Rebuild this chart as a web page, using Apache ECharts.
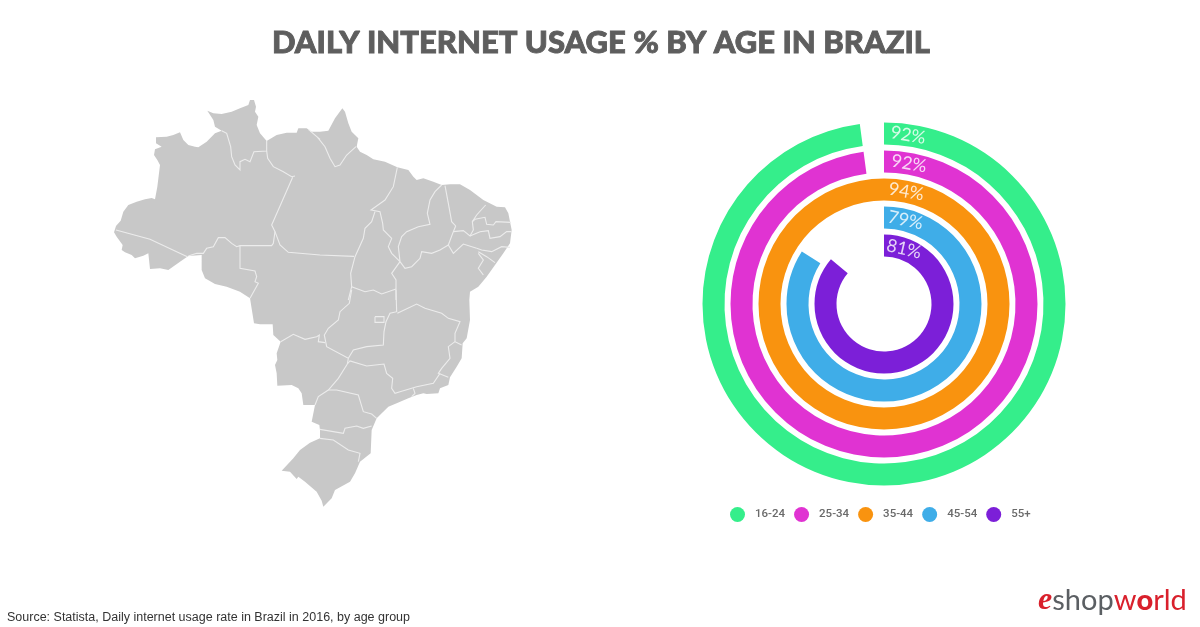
<!DOCTYPE html>
<html>
<head>
<meta charset="utf-8">
<title>Daily internet usage by age in Brazil</title>
<script src="https://cdn.jsdelivr.net/npm/echarts@6/dist/echarts.min.js"></script>
<style>
html, body { margin: 0; padding: 0; background: #fff; }
#chart { width: 1200px; height: 627px; }
</style>
</head>
<body>
<div id="chart"></div>
<script>
var ages = ["16-24", "25-34", "35-44", "45-54", "55+"];
var usage = [92, 92, 94, 79, 81];
var ageColors = ["#35ee8b", "#e033d2", "#f9930f", "#3fade8", "#7c1fd8"];
// where the value text sits on each ring: degrees past 12 o'clock, and its tilt
var labelDegrees = [8.1, 10.1, 11.2, 14.4, 20];
var labelTilt = [-10, -10, -10, -12, -13];

// map, points are written in zoom crop pixels
function crop(ox, oy, pts) {
	return pts.map(function(p) {
		return [ox + p[0] / 3, oy + p[1] / 3];
	});
}
var outline = [].concat(
	crop(100, 90, [[42,427],[48,408],[62,392],[70,365],[85,345],[110,335],[135,328],[155,324],[165,328],[172,290],[180,225],[172,210],[162,195],[165,178],[185,170],[168,160],[168,142],[200,140],[220,135],[240,127],[250,150],[265,165],[285,170],[295,172],[320,155],[345,130],[365,122],[345,110],[340,90],[322,62],[340,70],[365,72],[395,65],[420,55],[445,45],[450,30],[462,30],[468,50],[465,65],[475,80],[470,105],[480,130],[500,153],[530,135],[560,128],[590,128],[595,115],[620,115],[630,122]]),
	crop(310, 90, [[0,125],[30,125],[55,122],[75,85],[97,55],[105,65],[115,100],[125,125],[145,145],[140,170],[150,185],[170,195],[190,208],[225,215],[262,232],[295,240],[310,260],[320,270],[340,265],[370,275],[395,285],[420,283],[450,283],[480,300],[520,330],[560,350],[585,352],[595,370],[605,420],[600,460],[580,490],[555,525],[530,560],[505,590],[480,605]]),
	crop(260, 290, [[628,30],[630,90],[620,145],[608,160],[605,205],[590,230],[570,262],[565,285],[540,295],[535,310],[500,312],[490,310],[470,315],[445,325],[410,340],[385,350],[350,385],[335,420],[332,490],[300,515],[285,550],[270,575],[225,600],[215,625],[190,650],[185,632],[170,605],[135,575],[115,560],[110,567],[90,545],[65,542],[100,505],[120,480],[150,458],[180,445],[180,420],[178,405],[155,395],[165,345],[130,345],[125,310],[115,295],[95,285],[52,287],[50,250],[45,225],[52,210],[50,190],[62,155],[40,135],[38,103],[0,103]]),
	crop(100, 90, [[462,700],[450,625],[420,605],[380,590],[345,582],[315,565],[305,540],[305,495],[265,498],[240,515],[205,540],[180,535],[150,537],[145,490],[130,497],[105,505],[95,495],[75,487],[65,480],[68,465],[50,440]])
);
var borders = [
	crop(100, 90, [[365,122],[380,130],[392,170],[395,200],[405,225],[420,240],[420,215],[435,208],[450,215],[462,185],[500,183],[500,153]]),
	crop(100, 90, [[500,183],[503,205],[520,230],[550,245],[575,260],[585,258]]),
	crop(100, 90, [[578,262],[515,405],[525,425],[520,460],[515,467],[420,467],[410,470],[395,460],[375,443],[355,443],[340,470],[320,475],[310,490],[290,490],[265,498]]),
	crop(100, 90, [[48,420],[150,448],[262,500]]),
	crop(100, 90, [[420,467],[420,535],[465,543],[470,560],[465,575],[475,580],[450,625]]),
	crop(100, 90, [[525,425],[540,465],[565,487],[660,495],[762,499]]),
	crop(100, 90, [[625,118],[660,148]]).concat(crop(310, 90, [[25,145],[45,170],[60,205],[75,230],[90,225],[110,195],[138,170]])),
	crop(310, 90, [[262,232],[250,290],[225,330],[183,360],[210,365],[218,400],[220,420],[245,445],[235,470],[245,490],[270,515]]),
	crop(310, 90, [[195,365],[185,395],[165,415],[160,445],[135,500],[122,550],[125,590],[115,630]]),
	crop(310, 90, [[270,515],[245,550],[258,570],[258,630]]),
	crop(310, 90, [[125,590],[165,605],[190,600],[215,612],[258,597]]),
	crop(310, 90, [[270,515],[265,470],[275,440],[290,425],[325,410],[360,403],[352,370],[360,330],[375,305],[395,285]]),
	crop(310, 90, [[270,515],[285,535],[305,530],[330,505],[335,485],[365,490],[390,480],[415,465]]),
	crop(310, 90, [[405,287],[415,340],[425,395],[437,408],[430,425],[415,465],[430,490],[460,462],[500,475]]),
	crop(310, 90, [[430,425],[460,422],[480,438],[490,420],[487,395],[500,375],[527,345]]),
	crop(310, 90, [[487,395],[495,388],[525,382],[530,403],[550,405],[558,395],[603,397]]),
	crop(310, 90, [[480,438],[510,425],[535,422],[540,445],[570,440],[590,425],[605,425]]),
	crop(310, 90, [[500,475],[515,480],[545,485],[575,470],[600,472]]),
	crop(310, 90, [[505,485],[530,500],[555,518]]),
	crop(310, 90, [[505,490],[520,510],[505,535],[520,555]]),
	crop(260, 290, [[275,0],[268,40],[240,65],[235,90],[205,115],[193,135],[200,170],[265,205],[262,222]]),
	crop(260, 290, [[62,155],[100,133],[135,148],[170,140],[178,135],[175,155],[195,158]]),
	crop(260, 290, [[265,205],[280,180],[320,170],[370,165],[372,125],[378,95],[390,70],[410,65],[408,0]]),
	crop(260, 290, [[345,80],[372,80],[372,97],[345,97],[345,80]]),
	crop(260, 290, [[412,70],[470,42],[495,55],[545,70],[565,85],[600,95],[585,130],[585,155],[605,165]]),
	crop(260, 290, [[585,155],[565,170],[570,205],[545,235],[535,250],[565,262]]),
	crop(260, 290, [[540,250],[520,280],[470,290],[420,305],[405,310],[395,295],[398,265],[380,250],[372,222],[320,228],[270,213],[262,222]]),
	crop(260, 290, [[262,222],[235,265],[205,300],[175,320],[165,345]]),
	crop(260, 290, [[205,300],[230,300],[295,315],[310,365],[335,372],[350,385]]),
	crop(260, 290, [[460,295],[465,310],[455,320]]),
	crop(260, 290, [[180,418],[250,430],[255,415],[290,408],[310,415],[335,408]]),
	crop(260, 290, [[180,445],[220,450],[265,480],[300,490],[295,515]])
];

var myChart = echarts.init(document.getElementById("chart"));

var mapGraphics = [{
	type: "polygon",
	silent: true,
	shape: { points: outline },
	style: { fill: "#c8c8c8" }
}];
for (var b = 0; b < borders.length; b++) {
	mapGraphics.push({
		type: "polyline",
		silent: true,
		shape: { points: borders[b] },
		style: { stroke: "#ececec", lineWidth: 1.1, fill: null }
	});
}
// logo
mapGraphics.push({
	type: "text",
	silent: true,
	left: 1038,
	top: 585,
	style: {
		text: "{e|e}{shop|shop}{world|w}{globe|o}{world|rld}",
		rich: {
			e: { fontFamily: "Liberation Serif", fontStyle: "italic", fontWeight: "bold", fontSize: 32, fill: "#d9202c" },
			shop: { fontFamily: "Lato", fontSize: 29, fill: "#5b5f63" },
			world: { fontFamily: "Lato", fontSize: 29, fill: "#d9202c" },
			globe: { fontFamily: "Lato", fontWeight: 900, fontSize: 29, fill: "#d9202c" }
		}
	}
});

var axisMax = 94;
var seriesList = ages.map(function(age, i) {
	return {
		name: age,
		type: "bar",
		coordinateSystem: "polar",
		stack: "rings",
		barWidth: 22,
		itemStyle: { color: ageColors[i] },
		// only the row of this age has a value
		data: ages.map(function(a, j) {
			return j === i ? usage[i] : null;
		})
	};
});
// the bar label cannot be tilted in place, so the texts hang on hidden points
seriesList.push({
	name: "values",
	type: "scatter",
	coordinateSystem: "polar",
	symbolSize: 1,
	z: 5,
	itemStyle: { color: "transparent" },
	label: {
		show: true,
		position: "inside",
		color: "#fff",
		fontFamily: "Lato",
		fontWeight: 400,
		fontSize: 18,
		formatter: function(p) {
			return usage[p.dataIndex] + "%";
		}
	},
	data: ages.map(function(age, i) {
		return {
			value: [i, labelDegrees[i] * axisMax / 360],
			label: { rotate: labelTilt[i] }
		};
	})
});

var option = {
	backgroundColor: "#fff",
	animation: false,
	title: [{
		text: "DAILY INTERNET USAGE % BY AGE IN BRAZIL",
		left: 601,
		top: 27,
		padding: 0,
		textAlign: "center",
		textStyle: { fontFamily: "Lato", fontWeight: 900, fontSize: 31, color: "#5e5e5e", textBorderColor: "#5e5e5e", textBorderWidth: 0.9 }
	}, {
		text: "Source: Statista, Daily internet usage rate in Brazil in 2016, by age group",
		left: 7,
		top: 611,
		padding: 0,
		textStyle: { fontFamily: "Liberation Sans", fontWeight: "normal", fontSize: 12.5, color: "#333" }
	}],
	legend: {
		left: 730,
		top: 507,
		padding: 0,
		icon: "circle",
		itemWidth: 15,
		itemHeight: 15,
		itemGap: 9,
		data: ages,
		textStyle: { fontFamily: "Roboto", fontWeight: 500, fontSize: 11.5, color: "#6a6a6a", padding: [0, 0, 0, 5] }
	},
	polar: { center: [884, 304], radius: [44.5, 184.5] },
	angleAxis: { show: false, min: 0, max: axisMax, startAngle: 90, clockwise: true },
	radiusAxis: { show: false, type: "category", data: ages, inverse: true },
	graphic: mapGraphics,
	series: seriesList
};
myChart.setOption(option);
</script>
</body>
</html>
